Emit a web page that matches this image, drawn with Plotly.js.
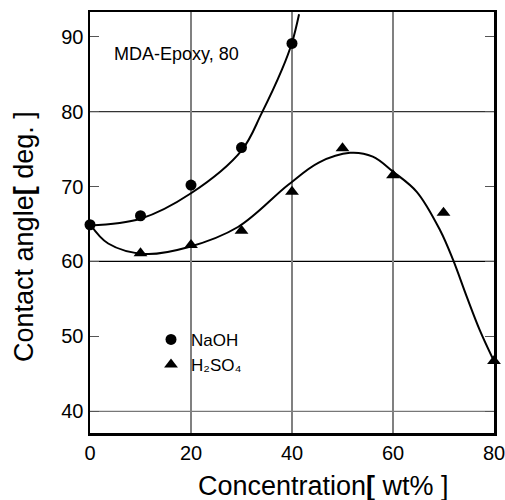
<!DOCTYPE html>
<html>
<head>
<meta charset="utf-8">
<script src="https://cdn.plot.ly/plotly-3.0.1.min.js"></script>
<style>html,body{margin:0;padding:0;background:#fff;}#chart{width:505px;height:500px;}</style>
</head>
<body>
<div id="chart"></div>
<script>
// Measured points
const naohX = [0, 10, 20, 30, 40];
const naohY = [64.9, 66.1, 70.2, 75.2, 89.1];
const h2so4X = [10, 20, 30, 40, 50, 60, 70, 80];
const h2so4Y = [61.1, 62.2, 64.1, 69.3, 75.1, 71.5, 66.5, 46.7];
// Fitted curves
const naohCurveX = [0, 10, 20, 30, 34, 38, 40, 41.4];
const naohCurveY = [64.8, 65.7, 69.1, 74.8, 79.8, 85.6, 89.2, 93.0];
const h2so4CurveX = [0, 3.6, 11, 19.4, 29.3, 39.2, 45.3, 51.5, 56, 60, 64.7, 69.3, 71.9, 74.6, 77.2, 80];
const h2so4CurveY = [65.0, 62.4, 61.0, 61.9, 64.6, 70.2, 73.2, 74.5, 74.0, 72.0, 69.3, 64.2, 60.2, 55.3, 50.8, 46.7];
// Axis ticks
const xTicks = [0, 20, 40, 60, 80];
const yTicks = [40, 50, 60, 70, 80, 90];
const gridY = [40, 60, 80];
const gridYColors = ['#777', '#000', '#333'];

const font = 'Liberation Sans, Arial, sans-serif';

const traces = [
  {x: naohCurveX, y: naohCurveY, mode: 'lines', line: {color: '#000', width: 2, shape: 'spline', smoothing: 1}, showlegend: false, hoverinfo: 'skip'},
  {x: h2so4CurveX, y: h2so4CurveY, mode: 'lines', line: {color: '#000', width: 2, shape: 'spline', smoothing: 1}, showlegend: false, hoverinfo: 'skip'},
  {x: naohX, y: naohY, mode: 'markers', name: 'NaOH', marker: {symbol: 'circle', size: 11, color: '#000'}, cliponaxis: false},
  {x: h2so4X, y: h2so4Y, mode: 'markers', name: 'H₂SO₄', marker: {symbol: 'triangle-up', size: 12, color: '#000'}, cliponaxis: false}
];

const shapes = gridY.map((v, i) => ({
  type: 'line', xref: 'paper', x0: 0, x1: 1, yref: 'y', y0: v, y1: v,
  line: {color: gridYColors[i], width: 1.3}, layer: 'below'
}));

const layout = {
  width: 505, height: 500,
  margin: {l: 90, r: 11, t: 12, b: 67},
  paper_bgcolor: '#fff', plot_bgcolor: '#fff',
  font: {family: font, color: '#000'},
  showlegend: true,
  legend: {x: 0.151, y: 0.264, xanchor: 'left', yanchor: 'top', bgcolor: 'rgba(0,0,0,0)', font: {size: 17, family: font}, tracegroupgap: 0},
  xaxis: {
    range: [0, 80], tickvals: xTicks, ticks: '', showgrid: true, gridcolor: '#808080', gridwidth: 1.5,
    showline: true, linecolor: '#000', linewidth: 2.5, mirror: true, zeroline: false,
    tickfont: {size: 20, family: font, color: '#000'}, ticklabelstandoff: 0, ticklabeloverflow: 'allow'
  },
  yaxis: {
    range: [37.1, 93.3], tickvals: yTicks, ticks: 'inside', ticklen: 9, tickwidth: 1, tickcolor: '#555',
    showgrid: false, showline: true, linecolor: '#000', linewidth: 2.5, mirror: 'ticks', zeroline: false,
    tickfont: {size: 20, family: font, color: '#000'}, ticklabeloverflow: 'allow'
  },
  shapes: shapes,
  annotations: [
    {text: 'MDA-Epoxy, 80', xref: 'paper', yref: 'paper', x: 0.055, y: 0.900, xanchor: 'left', yanchor: 'middle', showarrow: false, font: {size: 18, family: font}},
    {text: 'Concentration<b>[</b> wt% ]', xref: 'paper', yref: 'paper', x: 0.579, y: -0.125, xanchor: 'center', yanchor: 'middle', showarrow: false, font: {size: 27, family: font}},
    {text: 'Contact angle<b>[</b> deg. ]', xref: 'paper', yref: 'paper', x: -0.163, y: 0.466, xanchor: 'center', yanchor: 'middle', textangle: -90, showarrow: false, font: {size: 27, family: font}}
  ]
};

Plotly.newPlot('chart', traces, layout, {displayModeBar: false, staticPlot: true});
</script>
</body>
</html>
